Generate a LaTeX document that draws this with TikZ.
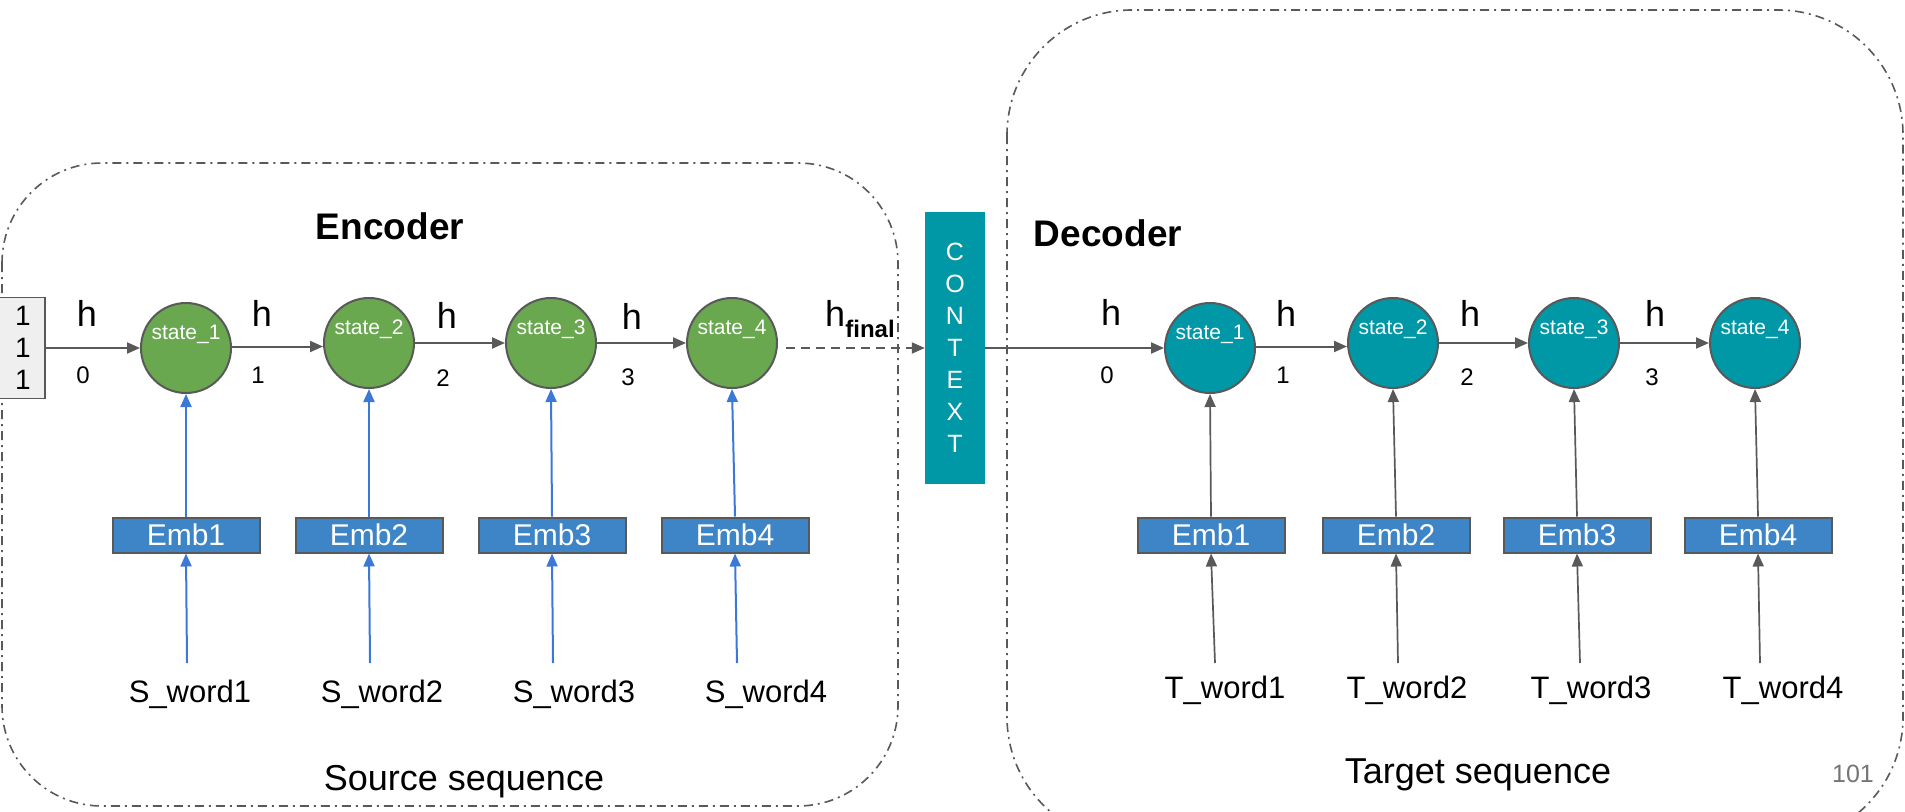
\documentclass[tikz,border=0pt]{standalone}
\usepackage{fontspec}
\setmainfont{Liberation Sans}
\usetikzlibrary{arrows.meta}
\definecolor{encgreen}{HTML}{6AA84F}
\definecolor{decteal}{HTML}{0097A7}
\definecolor{embblue}{HTML}{3D85C6}
\definecolor{linegray}{HTML}{595959}
\definecolor{arrblue}{HTML}{3C78D8}
\definecolor{vecfill}{HTML}{EFEFEF}
\definecolor{pagegray}{HTML}{757575}
\begin{document}
\begin{tikzpicture}[x=1pt,y=-1pt,
  state/.style={circle, draw=linegray, line width=2pt, minimum size=90pt, inner sep=0pt},
  encstate/.style={state, fill=encgreen},
  decstate/.style={state, fill=decteal},
  statelbl/.style={text=white, font=\fontsize{21}{25}\selectfont, inner sep=0pt},
  emb/.style={rectangle, draw=linegray, line width=2pt, fill=embblue, minimum width=147pt, minimum height=35pt, inner sep=0pt, text=white, font=\fontsize{30}{36}\selectfont},
  word/.style={anchor=base, inner sep=0pt, font=\fontsize{31}{37}\selectfont},
  hlbl/.style={font=\fontsize{36}{43}\selectfont, inner sep=0pt},
  idx/.style={font=\fontsize{24}{29}\selectfont, inner sep=0pt},
  tip/.style={-{Triangle[length=13pt,width=11pt]}},
  harrow/.style={draw=linegray, line width=2pt, tip},
  bluearrow/.style={draw=arrblue, line width=2pt, tip},
  grayarrow/.style={draw=linegray, line width=1.7pt, tip},
  groupbox/.style={draw=linegray, line width=1.6pt, dash pattern=on 9pt off 5pt on 2pt off 5pt},
  title/.style={font=\bfseries\fontsize{37}{44}\selectfont, inner sep=0pt},
  seqlbl/.style={anchor=base, font=\fontsize{36}{43}\selectfont, inner sep=0pt},
  ctxbox/.style={rectangle, fill=decteal, minimum width=60pt, minimum height=272pt, inner sep=0pt, text=white, align=center, font=\fontsize{25}{32}\selectfont},
  vecbox/.style={rectangle, draw=linegray, line width=1.6pt, fill=vecfill, minimum width=56pt, minimum height=101pt, inner sep=0pt, align=center, font=\fontsize{28}{32}\selectfont}
]
\useasboundingbox (0,0) rectangle (1905,811);
\clip (0,0) rectangle (1905,811);
\fill[white] (0,0) rectangle (1905,811);

% group boxes
\draw[groupbox, rounded corners=100pt] (2,163) rectangle (898,806);
\draw[groupbox, rounded corners=125pt] (1007,10) rectangle (1903,842);

% titles
\node[title] (enctitle) at (390,226) {Encoder};
\node[title] (dectitle) at (1108,233) {Decoder};

% initial vector
\node[vecbox] (vec) at (17,348) {\hspace*{12pt}1\\\hspace*{12pt}1\\\hspace*{12pt}1};

% encoder states
\node[encstate] (e1) at (186,348) {};
\node[encstate] (e2) at (369,343) {};
\node[encstate] (e3) at (551,343) {};
\node[encstate] (e4) at (732,343) {};
\foreach \i in {1,2,3,4} {
  \node[statelbl] (e\i t) at ([yshift=14pt]e\i.center) {state\_\i};
}

% decoder states
\node[decstate] (d1) at (1210,348) {};
\node[decstate] (d2) at (1393,343) {};
\node[decstate] (d3) at (1574,343) {};
\node[decstate] (d4) at (1755,343) {};
\foreach \i in {1,2,3,4} {
  \node[statelbl] (d\i t) at ([yshift=14pt]d\i.center) {state\_\i};
}

% context
\node[ctxbox] (ctx) at (955,348) {C\\O\\N\\T\\E\\X\\T};

% encoder horizontal arrows
\draw[harrow] (vec.east |- e1.west) -- (e1.west);
\draw[harrow] ([yshift=1.5pt]e1.east) -- ([yshift=1.5pt]e1.east -| e2.west);
\draw[harrow] (e2.east) -- (e3.west);
\draw[harrow] (e3.east) -- (e4.west);
\draw[harrow, dash pattern=on 9pt off 6pt] ([xshift=8pt]e4.east |- ctx.west) -- (ctx.west);

% decoder horizontal arrows
\draw[harrow] (ctx.east) -- (d1.west);
\draw[harrow] ([yshift=1.5pt]d1.east) -- ([yshift=1.5pt]d1.east -| d2.west);
\draw[harrow] (d2.east) -- (d3.west);
\draw[harrow] (d3.east) -- (d4.west);

% h labels encoder
\node[hlbl] (eh0) at (87,313) {h};
\node[idx] (ei0) at (83,375) {0};
\node[hlbl] (eh1) at (262,313) {h};
\node[idx] (ei1) at (258,375) {1};
\node[hlbl] (eh2) at (447,315) {h};
\node[idx] (ei2) at (443,378) {2};
\node[hlbl] (eh3) at (632,316) {h};
\node[idx] (ei3) at (628,377) {3};
\node[hlbl] (ehf) at (835,313) {h};
\node[inner sep=0pt, font=\bfseries\fontsize{24}{29}\selectfont] (ehfsub) at (870,329) {final};

% h labels decoder
\node[hlbl] (dh0) at (1111,312) {h};
\node[idx] (di0) at (1107,375) {0};
\node[hlbl] (dh1) at (1286,313) {h};
\node[idx] (di1) at (1283,375) {1};
\node[hlbl] (dh2) at (1470,313) {h};
\node[idx] (di2) at (1467,377) {2};
\node[hlbl] (dh3) at (1655,313) {h};
\node[idx] (di3) at (1652,377) {3};

% embeddings
\node[emb] (eb1) at (186,535) {Emb1};
\node[emb] (eb2) at (369,535) {Emb2};
\node[emb] (eb3) at (552,535) {Emb3};
\node[emb] (eb4) at (735,535) {Emb4};
\node[emb] (db1) at (1211,535) {Emb1};
\node[emb] (db2) at (1396,535) {Emb2};
\node[emb] (db3) at (1577,535) {Emb3};
\node[emb] (db4) at (1758,535) {Emb4};

% words
\node[word] (sw1) at (190,702) {S\_word1};
\node[word] (sw2) at (382,702) {S\_word2};
\node[word] (sw3) at (574,702) {S\_word3};
\node[word] (sw4) at (766,702) {S\_word4};
\node[word] (tw1) at (1225,698) {T\_word1};
\node[word] (tw2) at (1407,698) {T\_word2};
\node[word] (tw3) at (1591,698) {T\_word3};
\node[word] (tw4) at (1783,698) {T\_word4};

% arrow tails
\coordinate (sa1) at (187,663);
\coordinate (sa2) at (370,663);
\coordinate (sa3) at (553,663);
\coordinate (sa4) at (737,663);
\coordinate (ta1) at (1215,663);
\coordinate (ta2) at (1398,663);
\coordinate (ta3) at (1580,663);
\coordinate (ta4) at (1760,663);

\foreach \i in {1,2,3,4} {
  \draw[bluearrow] (sa\i) -- (eb\i.south);
  \draw[bluearrow] (eb\i.north) -- (e\i.south);
  \draw[grayarrow] (ta\i) -- (db\i.south);
  \draw[grayarrow] (db\i.north) -- (d\i.south);
}

% sequence labels
\node[seqlbl] (srcseq) at (464,790) {Source sequence};
\node[seqlbl] (tgtseq) at (1478,783) {Target sequence};
\node[anchor=base, inner sep=0pt, text=pagegray, font=\fontsize{25}{30}\selectfont] (pagenum) at (1853,782) {101};
\end{tikzpicture}
\end{document}
